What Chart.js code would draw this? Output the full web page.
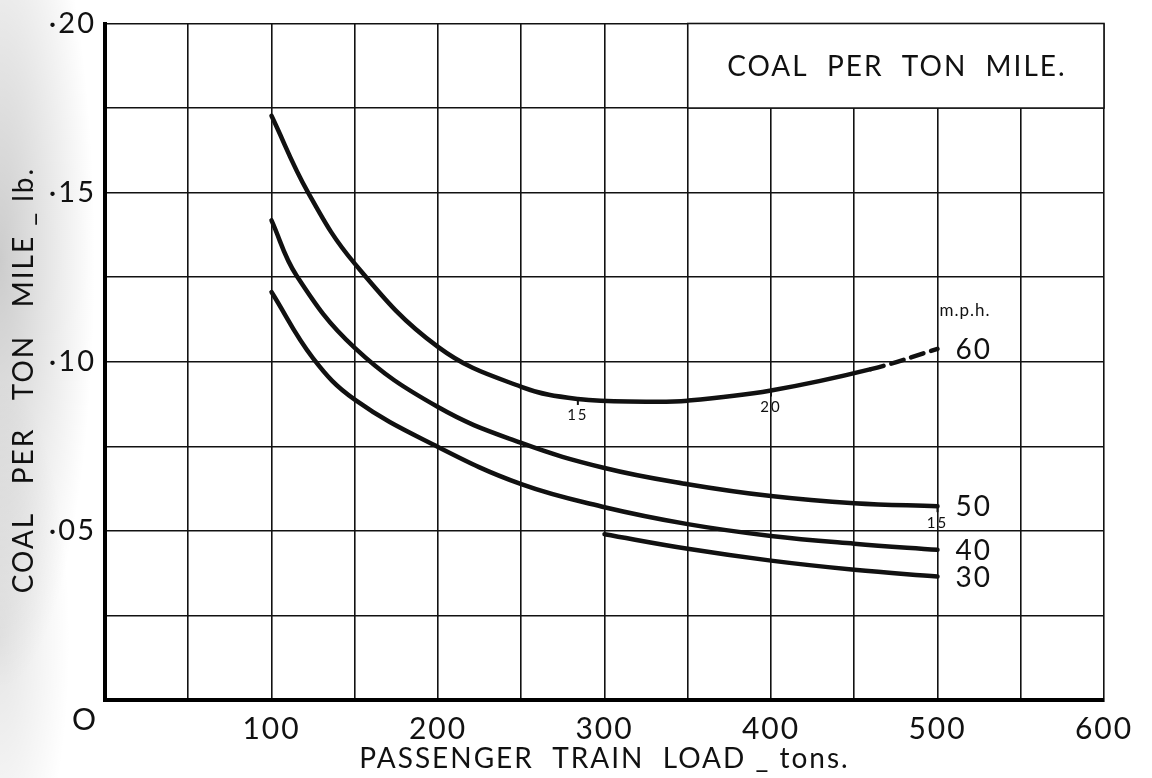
<!DOCTYPE html>
<html>
<head>
<meta charset="utf-8">
<script src="https://cdn.jsdelivr.net/npm/chart.js@4.4.1/dist/chart.umd.min.js"></script>
<style>
  html, body { margin: 0; padding: 0; }
  body {
    width: 1152px; height: 778px; overflow: hidden;
    background:
      radial-gradient(ellipse 95px 430px at 0px 260px, rgba(0,0,0,0.20), rgba(0,0,0,0) 100%),
      radial-gradient(ellipse 70px 260px at 0px 640px, rgba(0,0,0,0.10), rgba(0,0,0,0) 100%),
      #ffffff;
  }
  canvas { display: block; }
</style>
</head>
<body>
<canvas id="chart" width="1152" height="778"></canvas>
<script>
// Coal consumption (lb per ton mile) against passenger train load (tons), by speed.
const load60 = [100, 122, 150, 200, 250, 284, 325, 350, 400, 460, 500];
const coal60 = [0.1727, 0.1500, 0.1290, 0.1044, 0.0926, 0.0890, 0.0882, 0.0885, 0.0915, 0.0978, 0.1038];

const load50 = [100, 115, 150, 200, 250, 300, 350, 400, 450, 500];
const coal50 = [0.1418, 0.1255, 0.1041, 0.0866, 0.0760, 0.0686, 0.0638, 0.0603, 0.0582, 0.0573];

const load40 = [100, 125, 150, 200, 250, 300, 350, 400, 450, 500];
const coal40 = [0.1206, 0.1010, 0.0888, 0.0748, 0.0638, 0.0570, 0.0520, 0.0485, 0.0462, 0.0444];

const load30 = [300, 350, 400, 450, 500];
const coal30 = [0.0490, 0.0447, 0.0412, 0.0385, 0.0365];

// The 60 m.p.h. curve is extrapolated (dashed) beyond this load.
const dashFrom60 = 460;

// Speed labels at the curve ends, and small marks along the curves.
const speedLabels = ['60', '50', '40', '30'];
const speedUnit = 'm.p.h.';
const markSeries = ['60', '60', '50'];
const markLoads = [284, 400, 500];
const markTexts = ['15', '20', '15'];

// Axis tick labels.
const xLabelValues = [100, 200, 300, 400, 500, 600];
const xLabelTexts = ['100', '200', '300', '400', '500', '600'];
const yLabelValues = [0.05, 0.10, 0.15, 0.20];
const yLabelTexts = ['·05', '·10', '·15', '·20'];
const originLabel = 'O';

const chartTitle = 'COAL  PER  TON  MILE.';
const xTitle = 'PASSENGER  TRAIN  LOAD _ tons.';
const yTitle = 'COAL   PER   TON   MILE _ lb.    ';

const FONT = 'Lato, "Open Sans", "DejaVu Sans", sans-serif';
const INK = '#111111';

function toPoints(xs, ys) { return xs.map((x, i) => ({ x, y: ys[i] })); }

const seriesData = {
  '60': toPoints(load60, coal60),
  '50': toPoints(load50, coal50),
  '40': toPoints(load40, coal40),
  '30': toPoints(load30, coal30)
};

function curve(key, extra) {
  return Object.assign({
    label: key + ' ' + speedUnit,
    data: seriesData[key],
    borderColor: INK,
    borderWidth: 4.5,
    pointRadius: 0,
    fill: false,
    tension: 0.4,
    borderCapStyle: 'round'
  }, extra || {});
}

// Wide lettering for every text drawn on the chart.
const lettering = {
  id: 'lettering',
  beforeDraw(chart) { chart.ctx.letterSpacing = '2px'; }
};

// White title panel in the top right corner of the grid.
const titlePanel = {
  id: 'titlePanel',
  beforeDatasetsDraw(chart) {
    const { ctx, scales: { x, y } } = chart;
    const x0 = x.getPixelForValue(350), x1 = x.getPixelForValue(600);
    const y0 = y.getPixelForValue(0.2), y1 = y.getPixelForValue(0.175);
    ctx.save();
    ctx.fillStyle = '#ffffff';
    ctx.fillRect(x0, y0, x1 - x0, y1 - y0);
    ctx.strokeStyle = INK;
    ctx.lineWidth = 1.6;
    ctx.strokeRect(x0, y0, x1 - x0, y1 - y0);
    ctx.fillStyle = INK;
    ctx.font = '28px ' + FONT;
    ctx.textAlign = 'center';
    ctx.textBaseline = 'middle';
    ctx.fillText(chartTitle, (x0 + x1) / 2 + 1, (y0 + y1) / 2 + 1);
    ctx.restore();
  }
};

// Speed labels, small marks along the curves and the origin label.
const curveNotes = {
  id: 'curveNotes',
  afterDatasetsDraw(chart) {
    const { ctx, scales: { x, y } } = chart;
    ctx.save();
    ctx.fillStyle = INK;
    ctx.strokeStyle = INK;

    speedLabels.forEach(key => {
      const pts = seriesData[key];
      const last = pts[pts.length - 1];
      const px = x.getPixelForValue(last.x) + 18;
      const py = y.getPixelForValue(last.y);
      ctx.font = '28px ' + FONT;
      ctx.textAlign = 'left';
      ctx.textBaseline = 'middle';
      ctx.fillText(key, px, py + 1);
      if (key === '60') {
        ctx.font = '17px ' + FONT;
        ctx.letterSpacing = '1px';
        ctx.fillText(speedUnit, px - 16, py - 38);
        ctx.letterSpacing = '2px';
      }
    });

    markLoads.forEach((load, i) => {
      const pts = seriesData[markSeries[i]];
      const p = pts.find(q => q.x === load);
      const px = x.getPixelForValue(p.x);
      const py = y.getPixelForValue(p.y);
      ctx.lineWidth = 2;
      ctx.beginPath();
      ctx.moveTo(px, py);
      ctx.lineTo(px, py + 6);
      ctx.stroke();
      ctx.font = '15px ' + FONT;
      ctx.textAlign = 'center';
      ctx.textBaseline = 'top';
      ctx.fillText(markTexts[i], px, py + 9);
    });

    ctx.font = '30px ' + FONT;
    ctx.textAlign = 'center';
    ctx.textBaseline = 'middle';
    ctx.fillText(originLabel, x.getPixelForValue(0) - 20, y.getPixelForValue(0) + 20);
    ctx.restore();
  }
};

new Chart(document.getElementById('chart'), {
  type: 'line',
  data: {
    datasets: [
      curve('60', {
        borderDash: [],
        segment: {
          borderDash: ctx => ctx.p0.parsed.x >= dashFrom60 ? [13, 8] : undefined
        }
      }),
      curve('50'),
      curve('40'),
      curve('30')
    ]
  },
  options: {
    responsive: false,
    animation: false,
    devicePixelRatio: 1,
    layout: { padding: { top: 17, right: 48, left: 0, bottom: 0 } },
    plugins: {
      legend: { display: false },
      tooltip: { enabled: false }
    },
    scales: {
      x: {
        type: 'linear',
        min: 0,
        max: 600,
        afterFit: s => { s.height = 78; },
        ticks: {
          stepSize: 50,
          autoSkip: false,
          maxRotation: 0,
          padding: 11,
          color: INK,
          font: { family: FONT, size: 30 },
          callback: v => {
            const i = xLabelValues.indexOf(Math.round(v));
            return i >= 0 ? xLabelTexts[i] : '';
          }
        },
        grid: { color: INK, lineWidth: 1.6, drawTicks: false },
        border: { color: '#000000', width: 4 },
        title: {
          display: true,
          text: xTitle,
          color: INK,
          font: { family: FONT, size: 28, lineHeight: 1 },
          padding: { top: 0, bottom: 5 }
        }
      },
      y: {
        type: 'linear',
        min: 0,
        max: 0.2,
        afterFit: s => { s.width = 105; },
        ticks: {
          stepSize: 0.025,
          autoSkip: false,
          padding: 9,
          color: INK,
          font: { family: FONT, size: 29, lineHeight: 1 },
          callback: v => {
            const i = yLabelValues.findIndex(t => Math.abs(t - v) < 1e-6);
            return i >= 0 ? yLabelTexts[i] : '';
          }
        },
        grid: { color: INK, lineWidth: 1.6, drawTicks: false },
        border: { color: '#000000', width: 4 },
        title: {
          display: true,
          text: yTitle,
          color: INK,
          font: { family: FONT, size: 28, lineHeight: 1 },
          padding: { top: 10, bottom: 0 }
        }
      }
    }
  },
  plugins: [lettering, titlePanel, curveNotes]
});
</script>
</body>
</html>
